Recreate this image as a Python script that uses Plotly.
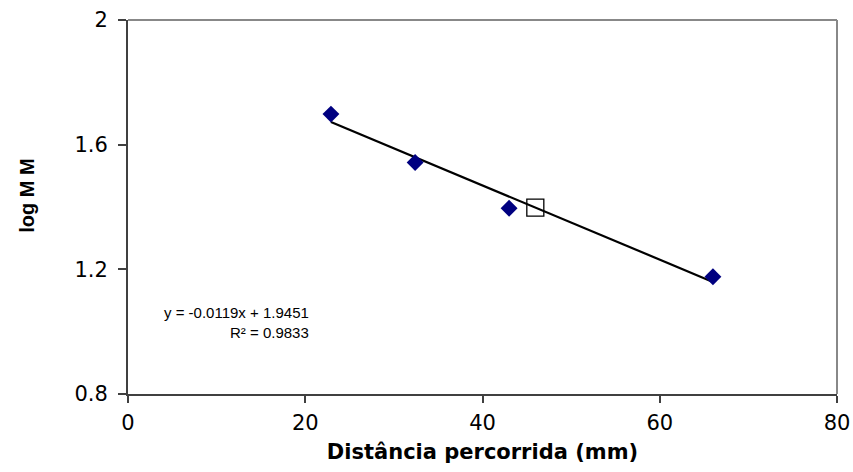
import plotly.graph_objects as go
import numpy as np

# Data
distance_mm = [22.9, 32.4, 43.0, 66.0]
log_mm = [1.698, 1.543, 1.396, 1.176]
unknown_x = [45.96]
unknown_y = [1.398]
slope = -0.0119
intercept = 1.9451
r2 = 0.9833
x_ticks = [0, 20, 40, 60, 80]
y_ticks = [0.8, 1.2, 1.6, 2.0]
y_tick_labels = ["0.8", "1.2", "1.6", "2"]

ARIAL = "Liberation Sans, Arial, sans-serif"
WIDE = "DejaVu Sans, sans-serif"

fit_x = np.array([min(distance_mm), max(distance_mm)])
fit_y = slope * fit_x + intercept

fig = go.Figure()
fig.add_trace(go.Scatter(x=fit_x, y=fit_y, mode="lines",
                         line=dict(color="black", width=2.2), showlegend=False))
fig.add_trace(go.Scatter(x=distance_mm, y=log_mm, mode="markers",
                         marker=dict(symbol="diamond", size=13, color="#000080",
                                     line=dict(width=0)), showlegend=False))
fig.add_trace(go.Scatter(x=unknown_x, y=unknown_y, mode="markers",
                         marker=dict(symbol="square", size=17, color="rgba(0,0,0,0)",
                                     line=dict(color="black", width=1.3)), showlegend=False))

fig.add_annotation(x=20.7, y=1.062, xref="x", yref="y", xanchor="right",
                   text="y = -0.0119x + 1.9451", showarrow=False,
                   font=dict(family=ARIAL, size=15, color="black"))
fig.add_annotation(x=20.7, y=0.996, xref="x", yref="y", xanchor="right",
                   text="R² = %.4f" % r2, showarrow=False,
                   font=dict(family=ARIAL, size=15, color="black"))

# y axis title placed as rotated text
fig.add_annotation(x=-0.1425, y=0.53, xref="paper", yref="paper",
                   text="<b>log M M</b>", textangle=-90, showarrow=False,
                   xanchor="center", yanchor="middle",
                   font=dict(family=ARIAL, size=20, color="black"))

# top/right gray frame
fig.add_shape(type="line", xref="paper", yref="paper", x0=0, x1=1, y0=1, y1=1,
              line=dict(color="#888888", width=2))
fig.add_shape(type="line", xref="paper", yref="paper", x0=1, x1=1, y0=0, y1=1,
              line=dict(color="#888888", width=2))

fig.update_layout(
    width=853, height=472,
    margin=dict(l=128, r=16, t=20, b=78),
    paper_bgcolor="white", plot_bgcolor="white",
    font=dict(family=ARIAL, color="black"),
    xaxis=dict(range=[0, 80], tickvals=x_ticks, ticks="outside", ticklen=7,
               tickcolor="#404040", tickwidth=1.5, automargin=False,
               showline=True, linecolor="#404040", linewidth=2,
               showgrid=False, zeroline=False, ticklabelstandoff=2,
               tickfont=dict(size=21, family=WIDE),
               title=dict(text="<b>Distância percorrida (mm)</b>",
                          font=dict(size=21, family=WIDE), standoff=10)),
    yaxis=dict(range=[0.8, 2.0], tickvals=y_ticks, ticktext=y_tick_labels,
               ticks="outside", ticklen=8, tickcolor="#404040", tickwidth=1.5,
               showline=True, linecolor="#404040", linewidth=2,
               showgrid=False, zeroline=False, automargin=False,
               ticklabelstandoff=6,
               tickfont=dict(size=21, family=WIDE)),
)

fig.write_html("out.html")
